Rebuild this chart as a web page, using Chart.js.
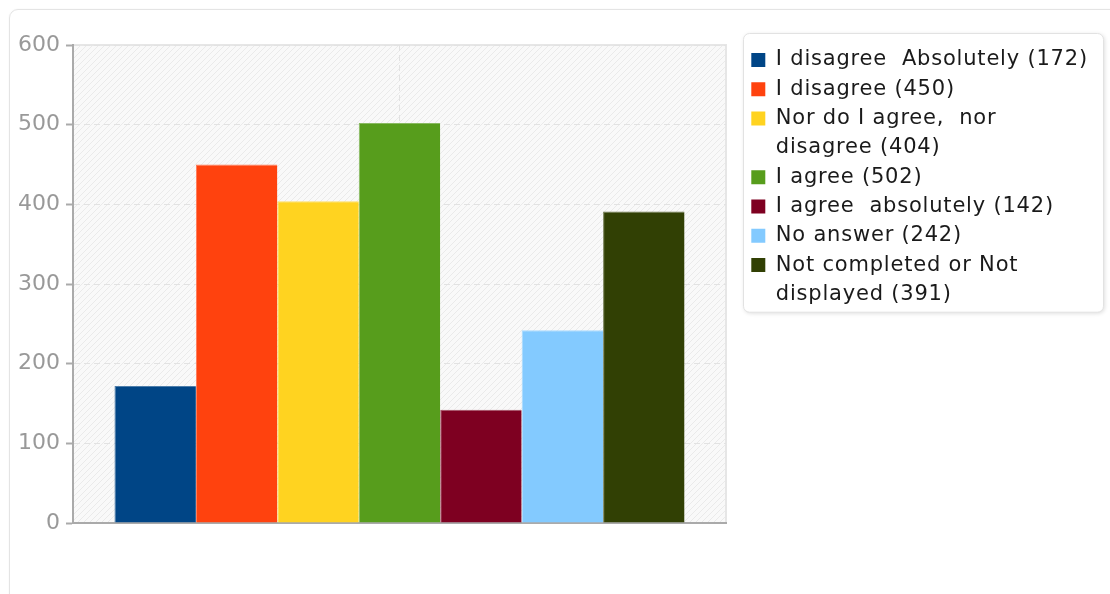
<!DOCTYPE html>
<html>
<head>
<meta charset="utf-8">
<script src="https://cdn.jsdelivr.net/npm/chart.js@4.4.1/dist/chart.umd.min.js"></script>
<style>
  html, body { margin: 0; padding: 0; background: #fff; overflow: hidden; }
  #card {
    position: absolute; left: 9px; top: 9px; width: 1130px; height: 640px;
    border: 1px solid #e4e4e4; border-radius: 9px;
    box-shadow: 0 0 2px rgba(0, 0, 0, 0.05);
  }
  #chart { position: absolute; left: 0; top: 0; }
</style>
</head>
<body>
<div id="card"></div>
<canvas id="chart" width="1110" height="594"></canvas>
<script>
// Answers and their counts
const answers = [
  "I disagree  Absolutely",
  "I disagree",
  "Nor do I agree,  nor disagree",
  "I agree",
  "I agree  absolutely",
  "No answer",
  "Not completed or Not displayed"
];
const counts = [172, 450, 404, 502, 142, 242, 391];
const barColors = ["#004586", "#ff420e", "#ffd320", "#579d1c", "#7e0021", "#83caff", "#314004"];

// Y axis range
const yMin = 0;
const yMax = 600;
const yStep = 100;

const LEGEND_LEFT = 743;
const PLOT_RIGHT = 726;
const MAX_CHARS = 28;

// Break a legend label into lines of at most MAX_CHARS characters
const wrapLabel = (text) => {
  const lines = [];
  let line = "";
  text.split(" ").forEach((word) => {
    const next = line === "" ? word : line + " " + word;
    if (next.length > MAX_CHARS && line.trim() !== "") {
      lines.push(line);
      line = word;
    } else {
      line = next;
    }
  });
  lines.push(line);
  return lines;
};

// Mix a hex colour with white
const lighten = (hex, k) => {
  const n = parseInt(hex.slice(1), 16);
  const mix = (c) => Math.round(c + (255 - c) * k);
  return `rgb(${mix(n >> 16)}, ${mix((n >> 8) & 255)}, ${mix(n & 255)})`;
};

// Light diagonal hatch for the plot background
let hatch = null;
const makeHatch = (ctx) => {
  const c = document.createElement("canvas");
  c.width = 6;
  c.height = 6;
  const p = c.getContext("2d");
  p.fillStyle = "#f9f9f9";
  p.fillRect(0, 0, 6, 6);
  p.strokeStyle = "#eaeaea";
  p.lineWidth = 1;
  p.beginPath();
  p.moveTo(0, 6); p.lineTo(6, 0);
  p.moveTo(-1, 1); p.lineTo(1, -1);
  p.moveTo(5, 7); p.lineTo(7, 5);
  p.stroke();
  return ctx.createPattern(c, "repeat");
};

const backdrop = {
  id: "backdrop",
  afterInit(chart) {
    // fixed legend width and a slightly wider letter spacing for its text
    const lg = chart.legend;
    const fit = lg.fit;
    const draw = lg.draw;
    lg.fit = function () {
      fit.call(this);
      this.width = chart.width - LEGEND_LEFT;
    };
    lg.draw = function () {
      const ctx = this.ctx;
      ctx.save();
      ctx.letterSpacing = "0.8px";
      ctx.translate(0, -3.8);
      draw.call(this);
      ctx.restore();
    };
  },
  beforeDraw(chart) {
    const { ctx, chartArea: a, legend } = chart;
    ctx.save();
    ctx.fillStyle = hatch || (hatch = makeHatch(ctx));
    ctx.fillRect(a.left, a.top, a.right - a.left, a.bottom - a.top);
    ctx.strokeStyle = "#e6e6e6";
    ctx.lineWidth = 2;
    ctx.beginPath();
    ctx.moveTo(a.left, a.top);
    ctx.lineTo(a.right, a.top);
    ctx.lineTo(a.right, a.bottom);
    ctx.stroke();

    // legend frame
    const boxes = legend.legendHitBoxes;
    const last = boxes[boxes.length - 1];
    const x = legend.left;
    const y = legend.top - 12;
    const w = legend.right - 7 - x;
    const h = last.top + last.height + 3 - y;
    ctx.shadowColor = "rgba(0,0,0,0.15)";
    ctx.shadowBlur = 4;
    ctx.shadowOffsetX = 1;
    ctx.shadowOffsetY = 1;
    ctx.fillStyle = "#fff";
    ctx.beginPath();
    ctx.roundRect(x + 0.5, y + 0.5, w, h, 6);
    ctx.fill();
    ctx.shadowColor = "transparent";
    ctx.strokeStyle = "#e2e2e2";
    ctx.lineWidth = 1;
    ctx.stroke();
    ctx.restore();
  }
};

new Chart(document.getElementById("chart"), {
  type: "bar",
  data: {
    labels: [""],
    datasets: answers.map((name, i) => ({
      label: name,
      data: [counts[i]],
      backgroundColor: barColors[i],
      borderColor: lighten(barColors[i], 0.3),
      borderWidth: { top: 1, left: 1, right: 0, bottom: 0 },
      borderSkipped: false,
      barPercentage: 1,
      categoryPercentage: 0.873
    }))
  },
  options: {
    responsive: false,
    animation: false,
    devicePixelRatio: 1,
    layout: { padding: { top: 45, left: 10, right: 0, bottom: 71 } },
    scales: {
      x: {
        ticks: { display: false },
        grid: { offset: false, drawTicks: false, color: "#e2e2e2" },
        border: { color: "#aaa", width: 2, dash: [6, 4] }
      },
      y: {
        min: yMin,
        max: yMax,
        ticks: {
          stepSize: yStep,
          padding: 6,
          color: "#999",
          font: { family: "DejaVu Sans", size: 22 }
        },
        grid: { color: "#e2e2e2", tickColor: "#aaa", tickLength: 7, tickWidth: 2, tickBorderDash: [] },
        border: { color: "#aaa", width: 2, dash: [6, 4] },
        afterFit(scale) { scale.width = 63; }
      },
      gap: {
        type: "linear",
        position: "right",
        display: true,
        ticks: { display: false },
        grid: { display: false, drawTicks: false },
        border: { display: false },
        afterFit(scale) { scale.width = LEGEND_LEFT - PLOT_RIGHT; }
      }
    },
    plugins: {
      legend: {
        position: "right",
        align: "start",
        onClick: null,
        labels: {
          boxWidth: 14,
          boxHeight: 14,
          padding: 8.3,
          font: { family: "DejaVu Sans", size: 21 },
          generateLabels: () => {
            const items = [];
            answers.forEach((name, i) => {
              wrapLabel(`${name} (${counts[i]})`).forEach((line, j) => {
                items.push({
                  text: line,
                  fillStyle: j === 0 ? barColors[i] : "rgba(0,0,0,0)",
                  strokeStyle: "rgba(0,0,0,0)",
                  lineWidth: 0,
                  fontColor: "#1a1a1a",
                  hidden: false,
                  datasetIndex: i
                });
              });
            });
            return items;
          }
        }
      },
      tooltip: { enabled: false }
    }
  },
  plugins: [backdrop]
});
</script>
</body>
</html>
